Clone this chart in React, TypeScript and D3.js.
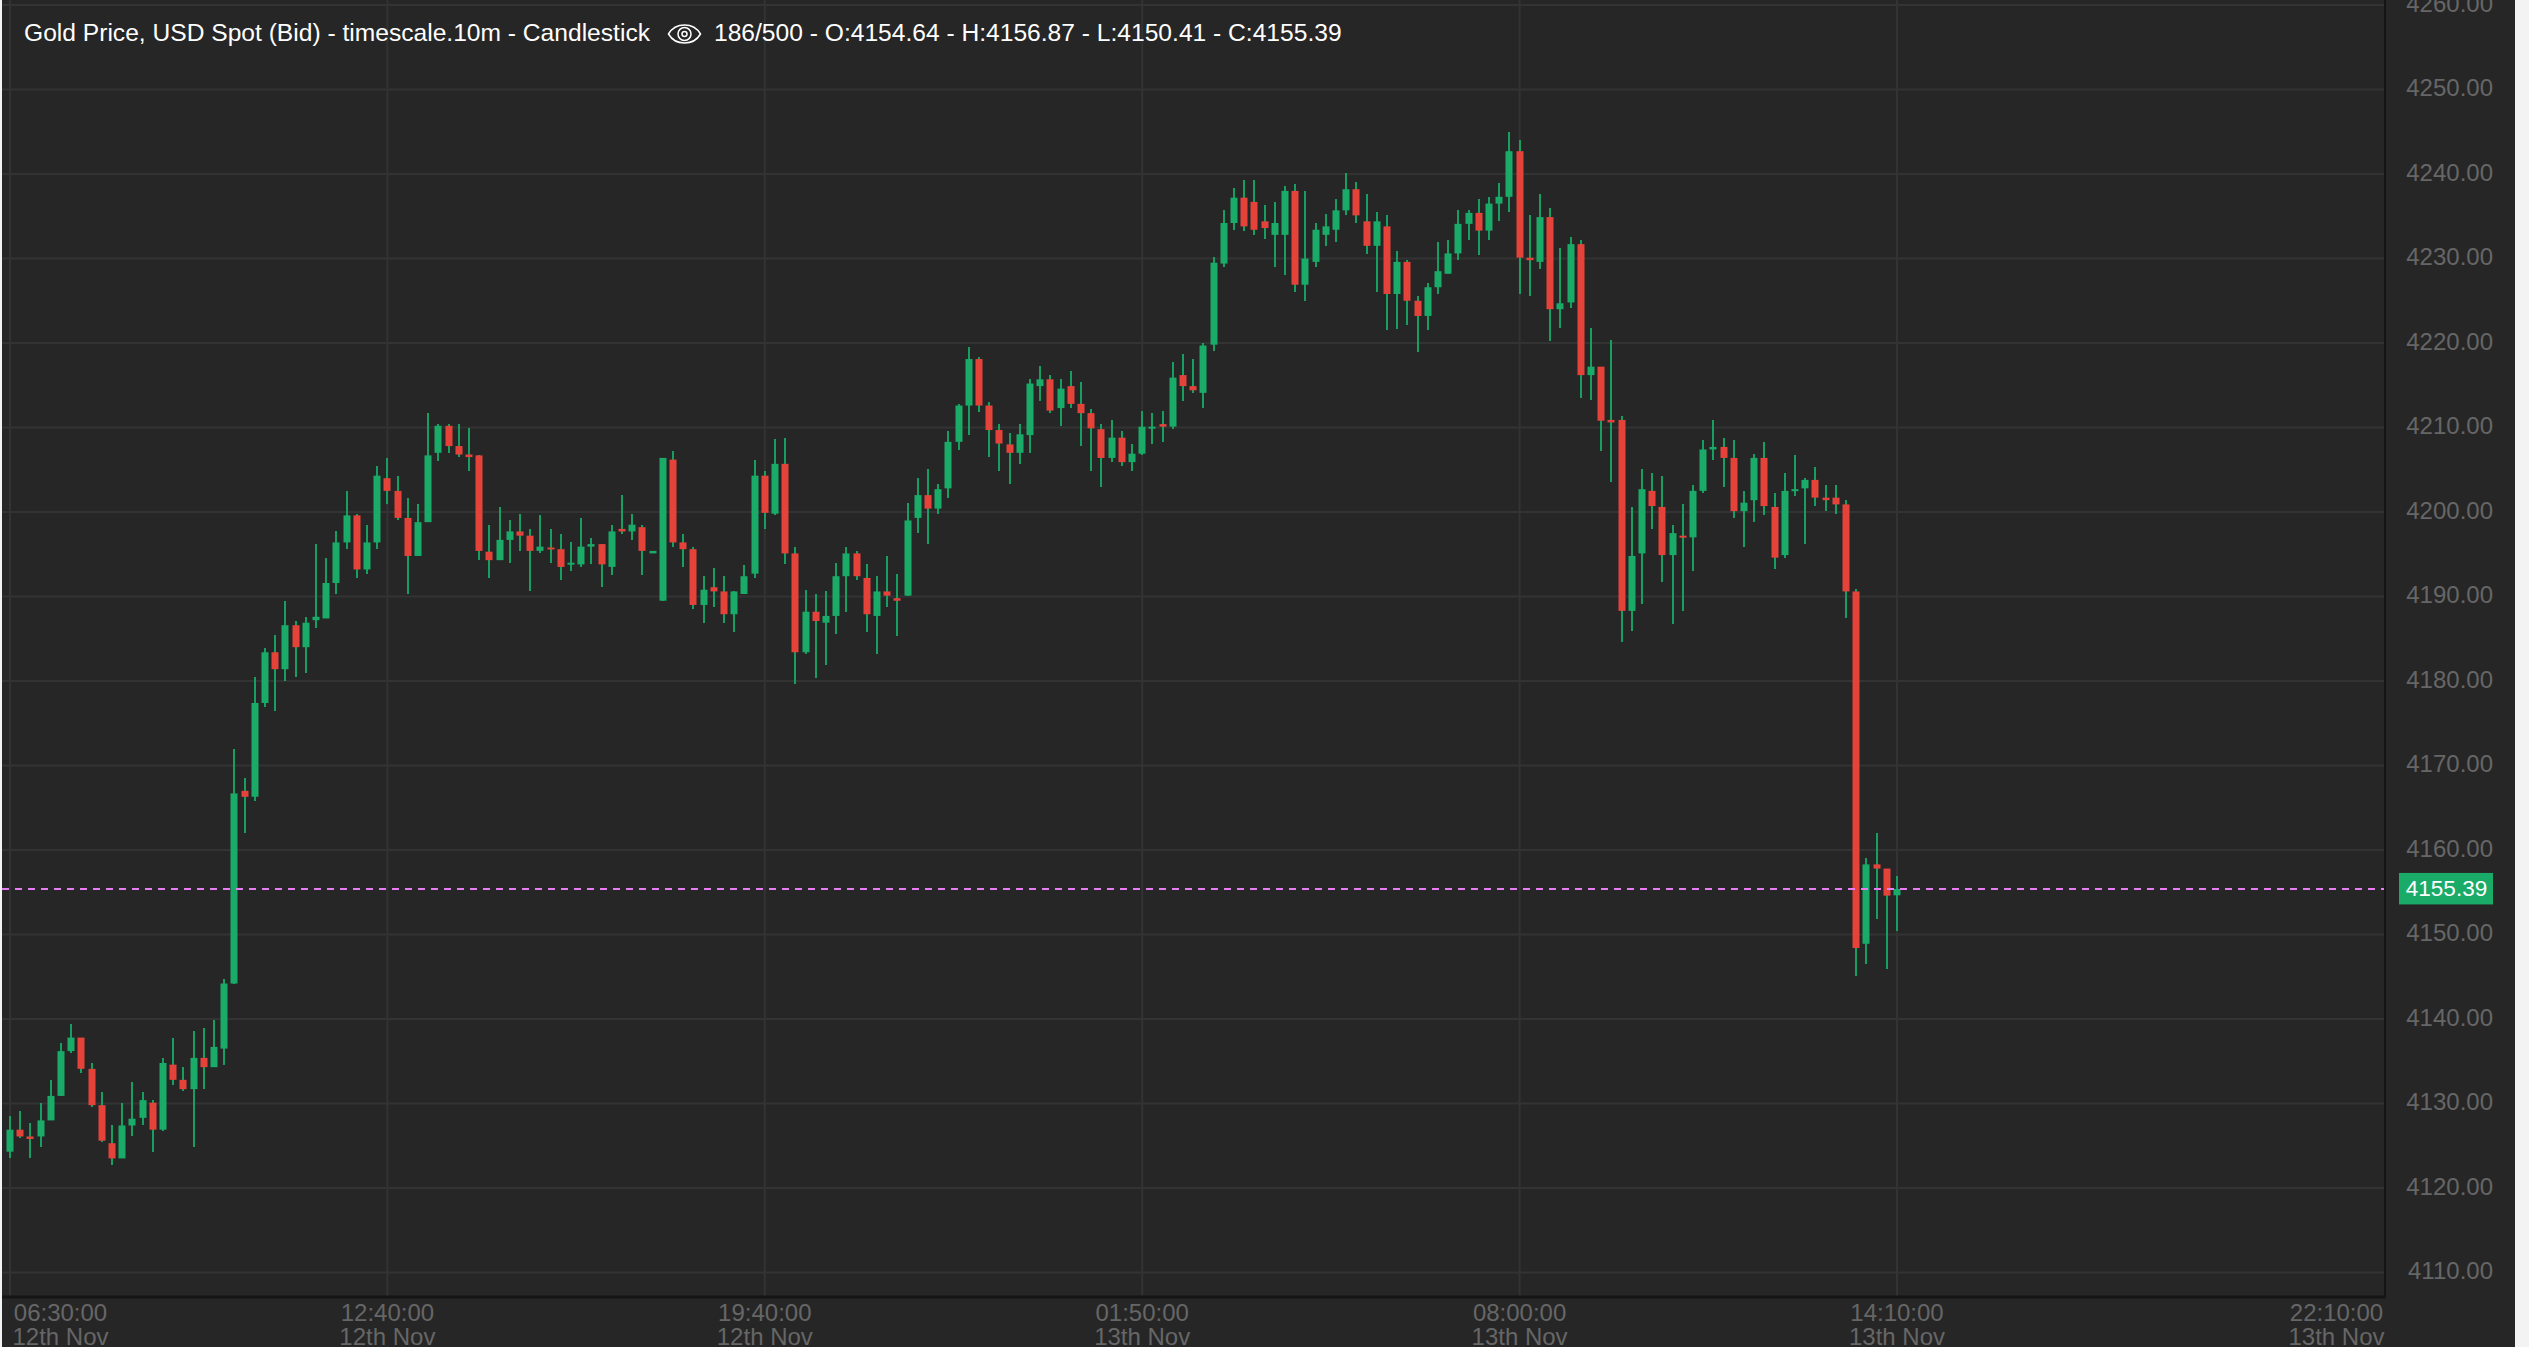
import * as d3 from "d3";

const opens = [
  4124.3,4126.9,4126.1,4126.1,4128.0,4130.9,4136.2,4137.8,4134.1,4129.8,
  4125.3,4123.5,4127.4,4128.3,4130.1,4126.9,4134.6,4132.8,4131.7,4135.4,
  4134.3,4136.5,4144.2,4167.0,4166.3,4177.4,4183.4,4181.4,4186.6,4184.0,
  4187.2,4187.4,4191.6,4196.4,4199.6,4193.2,4196.4,4204.0,4202.5,4199.3,
  4194.8,4198.8,4207.0,4210.2,4207.8,4206.8,4206.7,4195.3,4194.3,4196.7,
  4197.7,4197.2,4195.4,4195.8,4195.6,4193.8,4193.8,4195.9,4196.2,4193.5,
  4198.0,4197.7,4198.2,4195.1,4189.5,4206.2,4196.4,4195.6,4189.0,4191.1,
  4190.6,4187.9,4190.3,4192.7,4204.3,4199.8,4205.7,4195.1,4183.4,4188.2,
  4186.9,4187.7,4192.4,4195.1,4192.2,4187.7,4190.6,4189.8,4190.1,4199.3,
  4202.0,4200.4,4202.8,4208.3,4212.6,4218.1,4212.6,4209.7,4208.0,4207.0,
  4209.1,4214.9,4215.7,4212.3,4214.9,4212.8,4211.7,4209.8,4206.4,4208.8,
  4205.9,4206.9,4209.9,4210.4,4210.1,4216.2,4214.9,4214.1,4219.8,4229.4,
  4234.2,4237.2,4236.7,4234.4,4232.8,4232.8,4238.0,4226.9,4229.6,4232.8,
  4233.4,4235.7,4238.2,4234.4,4231.5,4233.8,4225.8,4229.6,4225.0,4223.2,
  4226.6,4228.2,4230.6,4234.1,4235.4,4233.3,4236.5,4237.3,4242.7,4230.1,
  4229.6,4234.9,4224.0,4224.8,4231.7,4216.2,4217.2,4210.9,4210.9,4188.3,
  4195.1,4202.5,4200.6,4194.9,4197.2,4197.0,4202.5,4207.4,4207.7,4206.4,
  4200.1,4201.4,4206.4,4200.6,4194.9,4202.5,4202.8,4203.8,4201.7,4201.7,
  4200.9,4190.6,4148.9,4158.3,4157.8,4154.64,
];

const closes = [
  4126.9,4126.1,4125.8,4128.0,4130.9,4136.2,4137.8,4134.1,4129.8,4125.6,
  4123.5,4127.4,4128.2,4130.4,4126.9,4134.8,4132.8,4131.7,4135.4,4134.3,
  4136.7,4144.2,4166.7,4166.3,4177.4,4183.4,4181.4,4186.6,4184.0,4186.9,
  4187.6,4191.6,4196.4,4199.6,4193.2,4196.4,4204.3,4202.5,4199.3,4194.8,
  4198.8,4206.7,4210.2,4207.8,4206.8,4206.5,4195.4,4194.3,4196.7,4197.7,
  4197.2,4195.4,4195.9,4195.6,4193.5,4194.0,4195.9,4196.2,4193.8,4197.7,
  4197.7,4198.5,4195.4,4195.4,4206.4,4196.4,4195.6,4189.0,4190.8,4190.6,
  4187.9,4190.6,4192.4,4204.3,4199.9,4205.7,4195.1,4183.4,4188.2,4187.1,
  4187.7,4192.4,4195.1,4192.4,4187.9,4190.6,4190.1,4189.5,4199.0,4202.0,
  4200.4,4202.7,4208.3,4212.6,4218.1,4212.6,4209.7,4208.1,4207.0,4209.2,
  4215.2,4215.7,4212.0,4214.6,4212.8,4211.7,4209.9,4206.4,4208.8,4205.9,
  4206.9,4210.1,4210.1,4210.1,4215.9,4214.9,4214.4,4219.7,4229.5,4234.2,
  4237.2,4233.8,4233.4,4233.6,4234.2,4238.0,4226.9,4230.0,4233.4,4233.8,
  4235.7,4238.2,4235.1,4231.5,4234.4,4225.8,4229.6,4225.0,4223.2,4226.6,
  4228.5,4230.6,4234.1,4235.4,4233.3,4236.5,4237.3,4242.7,4230.1,4229.8,
  4234.9,4224.0,4224.7,4231.7,4216.2,4217.2,4210.8,4210.6,4188.3,4194.8,
  4202.7,4200.7,4194.9,4197.5,4197.0,4202.5,4207.4,4207.7,4206.4,4200.1,
  4201.1,4206.4,4200.7,4194.6,4202.5,4202.7,4203.8,4201.7,4201.4,4200.9,
  4190.6,4148.4,4158.3,4157.8,4154.6,4155.39,
];

const highs = [
  4128.5,4129.1,4127.7,4130.1,4132.8,4137.2,4139.4,4137.8,4134.8,4131.4,
  4127.4,4130.1,4132.5,4131.4,4130.4,4135.4,4137.8,4134.3,4138.6,4138.9,
  4139.9,4144.7,4172.0,4168.5,4180.5,4183.9,4185.5,4189.5,4187.1,4187.6,
  4196.2,4194.5,4197.7,4202.5,4199.8,4198.5,4205.4,4206.4,4204.3,4201.7,
  4200.9,4211.7,4210.4,4210.4,4210.4,4209.9,4206.7,4198.5,4200.6,4199.0,
  4199.8,4198.0,4199.6,4198.0,4197.4,4196.4,4199.3,4196.9,4196.2,4198.5,
  4202.0,4199.8,4198.5,4195.4,4206.4,4207.2,4197.4,4195.8,4192.4,4193.4,
  4192.4,4190.6,4193.7,4206.2,4204.9,4208.6,4208.8,4195.9,4190.8,4190.3,
  4190.6,4194.0,4195.9,4195.4,4193.8,4192.4,4194.8,4192.7,4201.1,4204.0,
  4205.1,4203.3,4209.6,4212.8,4219.5,4218.3,4213.0,4210.4,4209.3,4210.4,
  4215.7,4217.3,4216.2,4215.7,4216.7,4215.4,4212.2,4210.4,4210.9,4209.6,
  4208.0,4212.0,4211.7,4212.0,4217.8,4218.7,4218.1,4220.0,4230.2,4235.7,
  4238.4,4239.3,4239.3,4236.3,4236.7,4238.6,4238.8,4238.0,4234.2,4235.3,
  4237.0,4240.1,4239.0,4237.6,4235.5,4235.1,4230.9,4229.8,4225.6,4227.1,
  4231.9,4232.2,4235.7,4235.7,4237.0,4237.3,4238.9,4245.0,4244.0,4235.2,
  4237.6,4236.0,4231.2,4232.5,4232.2,4221.8,4217.2,4220.4,4211.4,4200.6,
  4205.1,4204.6,4204.3,4198.5,4200.9,4203.2,4208.5,4210.9,4208.8,4208.5,
  4202.5,4206.9,4208.3,4202.2,4204.6,4206.7,4204.0,4205.3,4203.2,4203.2,
  4201.4,4190.9,4159.1,4162.0,4157.8,4156.87,
];

const lows = [
  4123.5,4125.9,4123.5,4124.8,4128.0,4130.9,4136.0,4133.6,4129.6,4125.4,
  4122.7,4123.5,4126.1,4127.4,4124.3,4126.7,4132.2,4131.5,4124.8,4131.7,
  4134.3,4134.6,4144.2,4162.0,4165.8,4176.9,4176.5,4180.0,4180.5,4181.0,
  4186.3,4187.4,4190.3,4195.6,4192.2,4192.7,4195.6,4200.9,4199.1,4190.3,
  4194.8,4198.8,4206.0,4207.0,4206.5,4204.9,4194.3,4192.2,4194.3,4194.0,
  4195.4,4190.6,4195.1,4194.0,4191.9,4193.0,4193.5,4193.8,4191.1,4192.5,
  4197.4,4196.7,4192.5,4195.1,4189.5,4195.9,4193.5,4188.5,4186.9,4188.7,
  4186.9,4185.8,4190.3,4192.2,4198.0,4199.6,4193.8,4179.7,4183.2,4180.3,
  4181.9,4185.6,4188.2,4191.9,4185.8,4183.2,4188.7,4185.3,4190.1,4197.5,
  4196.2,4199.8,4201.7,4207.3,4209.1,4211.8,4206.5,4204.9,4203.3,4205.7,
  4207.0,4213.1,4211.7,4210.2,4212.3,4207.8,4204.8,4203.0,4205.9,4205.4,
  4204.8,4206.7,4208.0,4208.3,4209.8,4213.1,4214.1,4212.3,4219.0,4229.0,
  4233.4,4233.2,4232.8,4232.3,4229.0,4228.0,4226.0,4225.0,4229.0,4231.5,
  4231.9,4235.1,4234.2,4230.5,4226.0,4221.5,4221.7,4222.1,4218.9,4221.5,
  4225.8,4228.2,4229.8,4232.2,4230.4,4232.2,4234.4,4235.5,4225.8,4225.6,
  4228.8,4220.2,4221.8,4224.2,4213.5,4213.3,4207.2,4203.5,4184.6,4185.9,
  4189.1,4198.0,4191.7,4186.7,4188.3,4193.0,4202.2,4206.2,4203.0,4199.3,
  4195.9,4198.8,4199.6,4193.3,4194.6,4201.9,4196.2,4200.7,4200.1,4199.8,
  4187.5,4145.1,4146.5,4151.8,4145.9,4150.41,
];

const priceTicks = [4110, 4120, 4130, 4140, 4150, 4160, 4170, 4180, 4190, 4200, 4210, 4220, 4230, 4240, 4250, 4260];
const tickIndex = [0, 37, 74, 111, 148, 185, 233];
const tickTimes = ["06:30:00", "12:40:00", "19:40:00", "01:50:00", "08:00:00", "14:10:00", "22:10:00"];
const tickDates = ["12th Nov", "12th Nov", "12th Nov", "13th Nov", "13th Nov", "13th Nov", "13th Nov"];
const lastPrice = 4155.39;
const titleLeft = "Gold Price, USD Spot (Bid) - timescale.10m - Candlestick";
const titleRight = "186/500 - O:4154.64 - H:4156.87 - L:4150.41 - C:4155.39";

const W = 2529;
const H = 1347;
const chartL = 2;
const chartR = 2515;
const plotR = 2385;
const plotB = 1297;
const FONT = "'Liberation Sans', Arial, sans-serif";
const GREEN = "#1aab68";
const RED = "#e5433a";
const WICK = "#179f61";

export default function App() {
  const x = d3.scaleLinear().domain([0, 233]).range([10, 2386.6]);
  const y = d3.scaleLinear().domain([4110, 4240]).range([1272.5, 174]);

  return (
    <svg
      width={W}
      height={H}
      viewBox={`0 0 ${W} ${H}`}
      style={{ position: "absolute", left: 0, top: 0, display: "block" }}
    >
      <rect width={W} height={H} fill="#f3f3f3" />
      <rect x={chartL} width={chartR - chartL} height={H} fill="#262626" />

      {/* grid */}
      {priceTicks.map((t) => (
        <line key={t} x1={chartL} x2={plotR} y1={y(t)} y2={y(t)} stroke="#333333" strokeWidth={2} />
      ))}
      {tickIndex.slice(0, -1).map((i) => (
        <line key={i} x1={x(i)} x2={x(i)} y1={0} y2={plotB} stroke="#333333" strokeWidth={2} />
      ))}

      {/* candles, wicks are green whatever the body colour */}
      {opens.map((o, i) => {
        const cx = Math.round(x(i));
        const top = y(Math.max(o, closes[i]));
        const bottom = y(Math.min(o, closes[i]));
        return (
          <g key={i}>
            <line
              x1={cx}
              x2={cx}
              y1={y(highs[i])}
              y2={y(lows[i])}
              stroke={WICK}
              strokeWidth={2}
              shapeRendering="crispEdges"
            />
            <rect
              x={cx - 3.5}
              y={top}
              width={7}
              height={Math.max(bottom - top, 2)}
              fill={closes[i] >= o ? GREEN : RED}
            />
          </g>
        );
      })}

      {/* current price */}
      <line
        x1={chartL}
        x2={plotR}
        y1={y(lastPrice)}
        y2={y(lastPrice)}
        stroke="#e87cf2"
        strokeWidth={2}
        strokeDasharray="7 6"
      />

      {/* axis lines */}
      <line x1={plotR} x2={plotR} y1={0} y2={plotB} stroke="#151515" strokeWidth={2} />
      <line x1={chartL} x2={plotR + 1} y1={plotB} y2={plotB} stroke="#151515" strokeWidth={3} />

      {/* price axis */}
      {priceTicks.map((t) => (
        <text
          key={t}
          x={2493}
          y={y(t) - 1.8}
          textAnchor="end"
          dominantBaseline="central"
          fontFamily={FONT}
          fontSize={24}
          fill="#666666"
        >
          {t.toFixed(2)}
        </text>
      ))}
      <rect x={2399} y={y(lastPrice) - 16} width={94} height={31.5} fill={GREEN} />
      <text
        x={2446.5}
        y={y(lastPrice)}
        textAnchor="middle"
        dominantBaseline="central"
        fontFamily={FONT}
        fontSize={22.5}
        fill="#ffffff"
      >
        {lastPrice.toFixed(2)}
      </text>

      {/* time axis */}
      {tickIndex.map((ti, k) => {
        const lx = Math.min(Math.max(x(ti), 60.5), 2336.5);
        return (
          <g key={ti} fontFamily={FONT} fontSize={24} fill="#666666" textAnchor="middle">
            <text x={lx} y={1321}>
              {tickTimes[k]}
            </text>
            <text x={lx} y={1344.5}>
              {tickDates[k]}
            </text>
          </g>
        );
      })}

      {/* header */}
      <text x={24} y={41} fontFamily={FONT} fontSize={24.6} fill="#ffffff">
        {titleLeft}
      </text>
      <g transform="translate(684.5 34)" fill="none" stroke="#ffffff" strokeWidth={1.5}>
        <path d="M-16 0 C-9 -12 9 -12 16 0 C9 12 -9 12 -16 0 Z" />
        <circle r={6.5} />
        <circle r={2.5} />
      </g>
      <text x={714} y={41} fontFamily={FONT} fontSize={24.6} fill="#ffffff">
        {titleRight}
      </text>
    </svg>
  );
}
